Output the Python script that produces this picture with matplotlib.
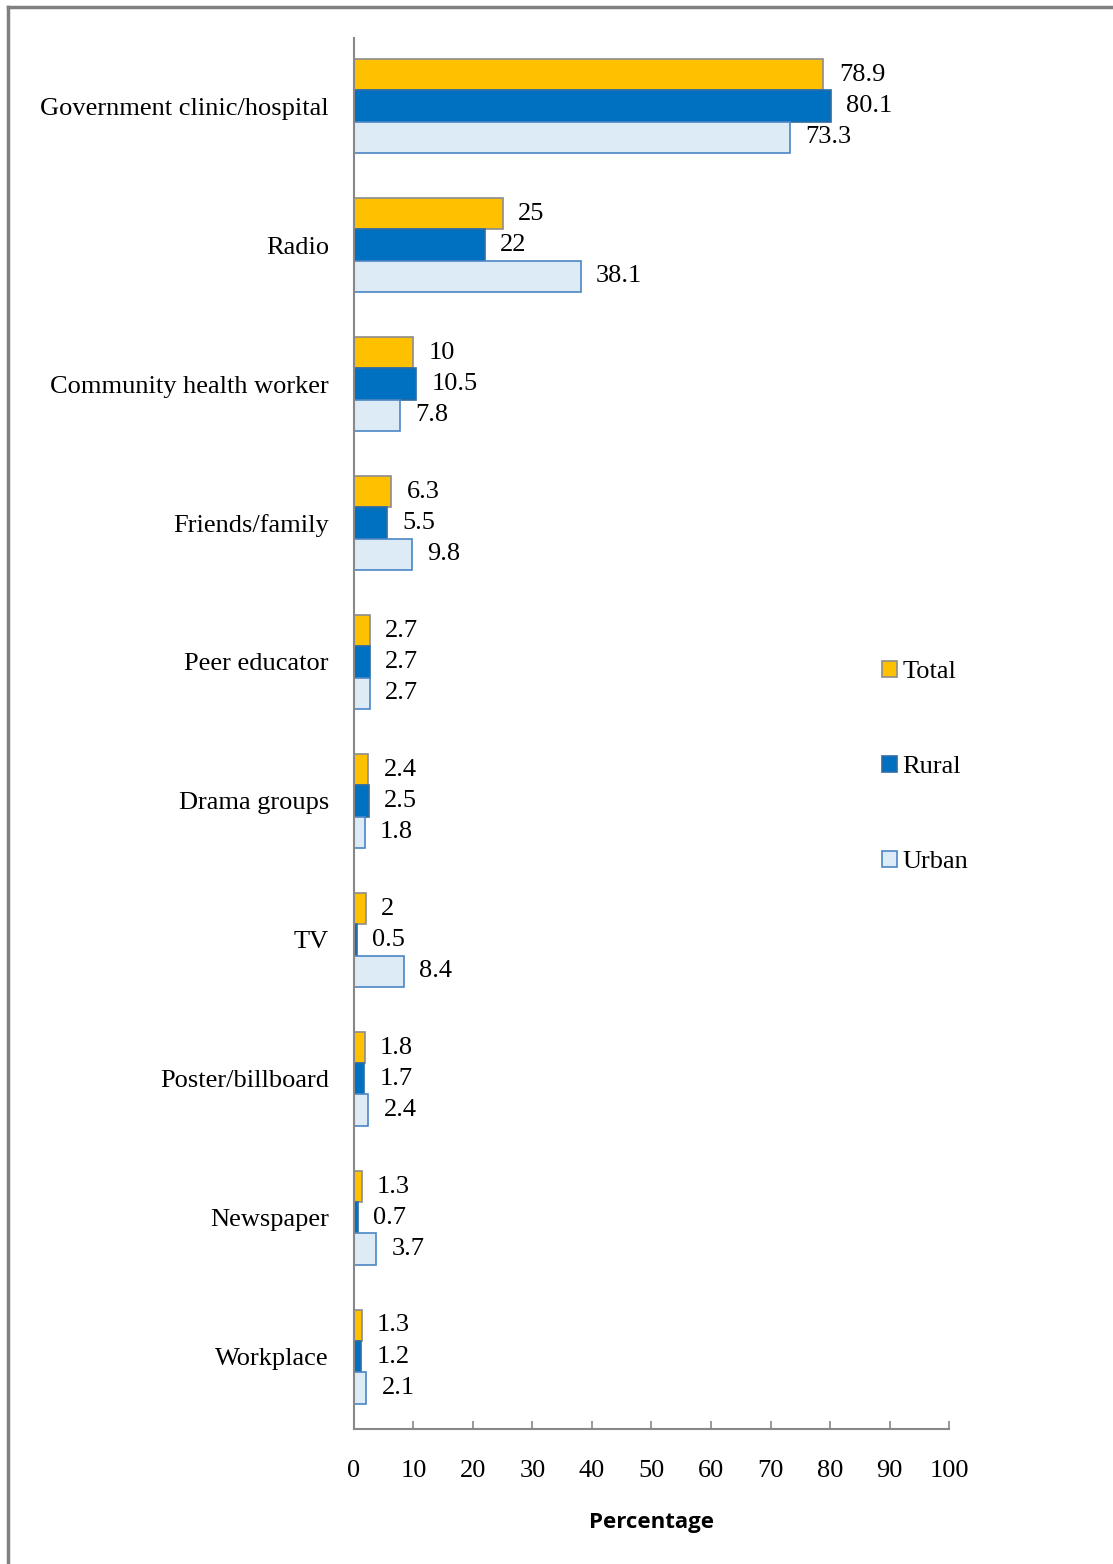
import matplotlib.pyplot as plt
from matplotlib.lines import Line2D
import numpy as np

# sources of information, top to bottom
categories = ['Government clinic/hospital', 'Radio', 'Community health worker',
              'Friends/family', 'Peer educator', 'Drama groups', 'TV',
              'Poster/billboard', 'Newspaper', 'Workplace']
total = [78.9, 25, 10, 6.3, 2.7, 2.4, 2, 1.8, 1.3, 1.3]
rural = [80.1, 22, 10.5, 5.5, 2.7, 2.5, 0.5, 1.7, 0.7, 1.2]
urban = [73.3, 38.1, 7.8, 9.8, 2.7, 1.8, 8.4, 2.4, 3.7, 2.1]
series_names = ['Total', 'Rural', 'Urban']
xticks = [0, 10, 20, 30, 40, 50, 60, 70, 80, 90, 100]

colors = ['#FFC000', '#0070C0', '#DDEBF7']
edges = ['#8C8C8C', '#2E6DA4', '#4A86C5']

serif = ['Liberation Serif', 'DejaVu Serif']
fs = 19

fig = plt.figure(figsize=(11.13, 15.64), dpi=100)
ax = fig.add_axes([0.318, 0.0863, 0.5347, 0.8894])

y = np.arange(len(categories))
h = 0.225
handles = []
for i, vals in enumerate([total, rural, urban]):
    pos = y + (i - 1) * h
    b = ax.barh(pos, vals, height=h, color=colors[i], edgecolor=edges[i],
                linewidth=1.2, label=series_names[i])
    handles.append(b)
    for p, v in zip(pos, vals):
        ax.annotate(f'{v:g}', (v, p), xytext=(11, 0), textcoords='offset points',
                    va='center', ha='left', fontsize=fs, family=serif)

ax.set_ylim(len(categories) - 0.48, -0.49)
ax.set_xlim(0, 100)
ax.set_xticks(xticks)
ax.set_yticks(y)
ax.set_yticklabels(categories, fontsize=fs, family=serif)
ax.tick_params(axis='y', length=0, pad=18)
ax.tick_params(axis='x', direction='in', length=6, width=1.2, color='#888888',
               pad=22, labelsize=fs)
for lbl in ax.get_xticklabels():
    lbl.set_family(serif)

for s in ['top', 'right']:
    ax.spines[s].set_visible(False)
for s in ['left', 'bottom']:
    ax.spines[s].set_color('#888888')
    ax.spines[s].set_linewidth(1.5)

ax.set_xlabel('Percentage', fontsize=16, fontweight='bold',
              family=['Open Sans', 'DejaVu Sans'], labelpad=22)

ax.legend(handles=handles, loc='center left', bbox_to_anchor=(0.848, 0.476),
          frameon=False, prop={'family': serif, 'size': fs},
          handlelength=0.55, handleheight=0.55, handletextpad=0.2,
          labelspacing=2.75)

# outer frame of the original figure (top and left edges visible)
fig.add_artist(Line2D([8 / 1113, 1], [1 - 7 / 1564, 1 - 7 / 1564],
                      transform=fig.transFigure, color='#808080', lw=2.5))
fig.add_artist(Line2D([8 / 1113, 8 / 1113], [0, 1 - 7 / 1564],
                      transform=fig.transFigure, color='#808080', lw=2.5))

fig.savefig('out.png', dpi=100)
